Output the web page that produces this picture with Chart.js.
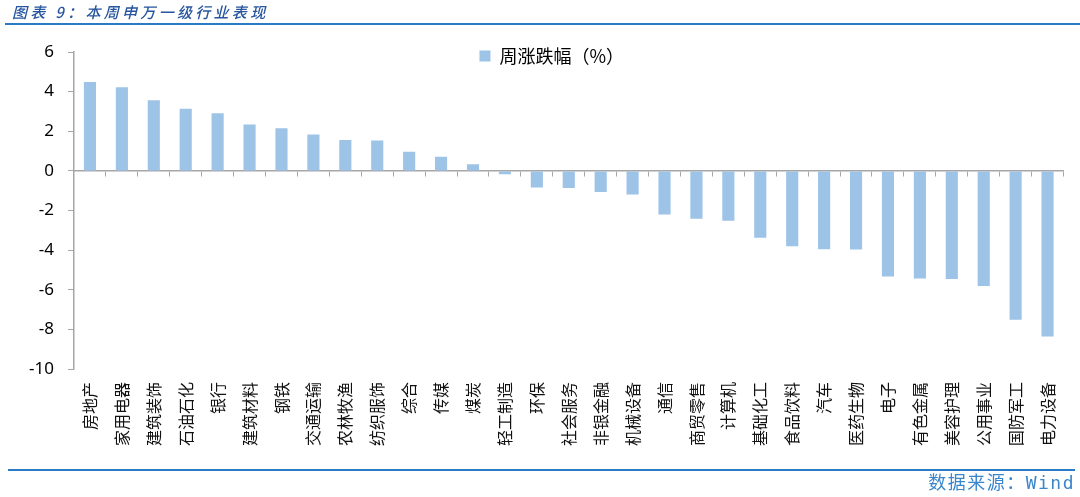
<!DOCTYPE html>
<html>
<head>
<meta charset="utf-8">
<script src="https://cdn.jsdelivr.net/npm/chart.js@4.4.1/dist/chart.umd.min.js"></script>
<style>
  html, body { margin: 0; padding: 0; background: #fff; }
  #wrap { position: relative; width: 1080px; height: 497px; overflow: hidden; }
  #graph { position: absolute; left: 0; top: 0; }
  #title { position: absolute; left: 12px; top: 4px; font: italic 500 15px "Noto Sans CJK SC"; line-height: 15px;
           letter-spacing: 3.3px; color: #27559E; white-space: nowrap; }
  #topline { position: absolute; left: 5px; top: 23px; width: 1075px; height: 2px; background: #2A7AC6; }
  #bottomline { position: absolute; left: 8px; top: 469px; width: 1067px; height: 2px; background: #2A7AC6; }
  #source { position: absolute; right: 5px; top: 474px; font: 18px "DejaVu Sans Mono", "Noto Sans CJK SC";
            line-height: 18px; letter-spacing: 1.5px; color: #3A86CC; white-space: nowrap; }
</style>
</head>
<body>
<div id="wrap">
  <canvas id="graph" width="1080" height="497"></canvas>
  <div id="title">图表 9：本周申万一级行业表现</div>
  <div id="topline"></div>
  <div id="bottomline"></div>
  <div id="source">数据来源：Wind</div>
</div>
<script>
const categories = ['房地产', '家用电器', '建筑装饰', '石油石化', '银行', '建筑材料', '钢铁', '交通运输',
  '农林牧渔', '纺织服饰', '综合', '传媒', '煤炭', '轻工制造', '环保', '社会服务', '非银金融', '机械设备',
  '通信', '商贸零售', '计算机', '基础化工', '食品饮料', '汽车', '医药生物', '电子', '有色金属', '美容护理',
  '公用事业', '国防军工', '电力设备'];
const weeklyChange = [4.49, 4.22, 3.57, 3.14, 2.91, 2.34, 2.15, 1.83, 1.56, 1.53, 0.97, 0.71, 0.34,
  -0.17, -0.84, -0.87, -1.07, -1.19, -2.20, -2.42, -2.52, -3.38, -3.80, -3.95, -3.97, -5.33, -5.43,
  -5.46, -5.81, -7.51, -8.36];
const seriesName = '周涨跌幅（%）';
const yTicks = [6, 4, 2, 0, -2, -4, -6, -8, -10];

// legend sits inside the plot area: it only reserves a thin strip in the layout,
// then gets its full box back (and is centred like the original) before drawing
const legendSpace = {
  id: 'legendSpace',
  beforeInit(chart) {
    const fit = chart.legend.fit;
    chart.legend.fit = function () {
      fit.call(this);
      this.height = 14;
    };
  },
  afterLayout(chart) {
    const lg = chart.legend;
    lg.left = 40;
    lg.right = chart.chartArea.right;
    lg.width = lg.right - lg.left;
    lg.bottom = lg.top + 40;
    lg.height = 40;
  }
};

const axisGrey = '#A6A6A6';

var ctx = document.getElementById('graph').getContext('2d');
var chart = new Chart(ctx, {
  type: 'bar',
  data: {
    labels: categories,
    datasets: [{
      label: seriesName,
      data: weeklyChange,
      backgroundColor: '#9DC3E6',
      borderWidth: 0,
      barPercentage: 0.38,
      categoryPercentage: 1,
      xAxisID: 'x',
      yAxisID: 'y'
    }]
  },
  options: {
    responsive: false,
    animation: false,
    layout: { padding: { top: 38, left: 0, right: 15, bottom: 28 } },
    plugins: {
      tooltip: { enabled: false },
      legend: {
        position: 'top',
        labels: {
          boxWidth: 11,
          boxHeight: 11,
          padding: 9,
          color: '#000',
          font: { family: 'Noto Sans CJK SC', size: 18 }
        }
      }
    },
    scales: {
      x: {
        type: 'category',
        position: { y: 0 },
        offset: true,
        grid: { offset: true, drawOnChartArea: false, drawTicks: true, tickLength: 5, color: axisGrey },
        border: { color: axisGrey, width: 1.5 },
        ticks: { display: false }
      },
      x2: {
        type: 'category',
        axis: 'x',
        position: 'bottom',
        offset: true,
        grid: { display: false, drawTicks: false },
        border: { display: false },
        ticks: {
          autoSkip: false,
          minRotation: 90,
          maxRotation: 90,
          padding: 13,
          color: '#111',
          font: { family: 'Noto Sans CJK SC', size: 16 }
        },
        afterFit(scale) { scale.height = 100; }
      },
      y: {
        min: -10,
        max: 6,
        afterBuildTicks(scale) { scale.ticks = yTicks.map(v => ({ value: v })); },
        grid: { drawOnChartArea: false, drawTicks: true, tickLength: 6, color: axisGrey },
        border: { color: axisGrey, width: 1.5 },
        ticks: { padding: 14, color: '#000', font: { family: 'Noto Sans', size: 17 } },
        afterFit(scale) { scale.width = 74; }
      }
    }
  },
  plugins: [legendSpace]
});
</script>
</body>
</html>
